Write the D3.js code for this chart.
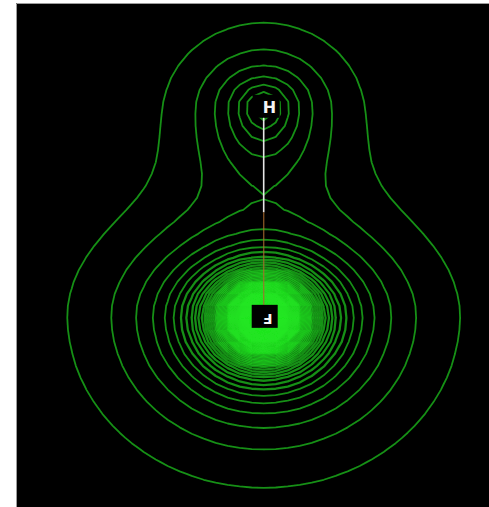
<!DOCTYPE html>
<html>
<head>
<meta charset="utf-8">
<script src="https://cdn.jsdelivr.net/npm/d3@7/dist/d3.min.js"></script>
<style>
  html, body { margin: 0; padding: 0; background: #ffffff; }
  svg { display: block; }
</style>
</head>
<body>
<svg id="chart" width="489" height="507"></svg>
<script>
// Hydrogen fluoride: electron density contours in the molecular plane.
// Atom positions in bohr, bond along the y axis.
const atomSymbols = ["H", "F"];
const atomX = [0.0, 0.0];
const atomY = [1.733, 0.0];

// Atom-centred density terms (e/bohr^3, decay lengths in bohr).
const valenceAmp   = [0.172, 0.410];
const valenceDecay = [0.316, 0.460];   // across and away from the bond
const bondDecay    = [0.456, 0.354];   // along the bond, towards the partner atom
const coreAmp      = [0.0, 2.84];
const coreDecay    = [0.123, 0.123];

// Contours are drawn at equal density steps.
const contourStep  = 0.02;
const contourCount = 170;

const width = 489, height = 507;
const plot = { left: 16, top: 3, right: 489, bottom: 507 };

const svg = d3.select("#chart");

const x = d3.scaleLinear().domain([-1.77, 1.61]).range([plot.left, plot.right]);
const y = d3.scaleLinear().domain([2.585, -1.553]).range([plot.top, plot.bottom]);

function density(bx, by) {
  let rho = 0;
  for (let a = 0; a < atomSymbols.length; a++) {
    const dx = bx - atomX[a], dy = by - atomY[a];
    const partner = a === 0 ? 1 : 0;
    const towards = dy * (atomY[partner] - atomY[a]) > 0;
    const sy = towards ? bondDecay[a] : valenceDecay[a];
    rho += valenceAmp[a] * Math.exp(-Math.hypot(dx / valenceDecay[a], dy / sy));
    if (coreAmp[a] > 0) rho += coreAmp[a] * Math.exp(-Math.hypot(dx, dy) / coreDecay[a]);
  }
  return rho;
}

// Coarse sampling grid in screen space, with one node on the fluorine nucleus.
const cell = 12;
const fx = x(atomX[1]), fy = y(atomY[1]);
const nLeft = Math.ceil((fx - plot.left) / cell);
const nTop = Math.ceil((fy - plot.top) / cell);
const gx0 = fx - cell * (nLeft + 0.5);
const gy0 = fy - cell * (nTop + 0.5);
const cols = nLeft + Math.ceil((plot.right - fx) / cell) + 2;
const rows = nTop + Math.ceil((plot.bottom - fy) / cell) + 2;

const values = new Float64Array(cols * rows);
for (let j = 0; j < rows; j++) {
  for (let i = 0; i < cols; i++) {
    const px = gx0 + (i + 0.5) * cell, py = gy0 + (j + 0.5) * cell;
    values[j * cols + i] = density(x.invert(px), y.invert(py));
  }
}

const levels = d3.range(1, contourCount + 1).map(n => n * contourStep);
const contours = d3.contours().size([cols, rows]).thresholds(levels)(values);

const toScreen = d3.geoTransform({
  point(cx, cy) { this.stream.point(gx0 + cx * cell, gy0 + cy * cell); }
});
const path = d3.geoPath(toScreen);

const defs = svg.append("defs");
defs.append("clipPath").attr("id", "panel-clip")
  .append("rect")
  .attr("x", plot.left).attr("y", plot.top)
  .attr("width", plot.right - plot.left).attr("height", plot.bottom - plot.top);
defs.append("filter").attr("id", "soft")
  .attr("filterUnits", "userSpaceOnUse")
  .attr("x", 0).attr("y", 0).attr("width", width).attr("height", height)
  .append("feGaussianBlur").attr("stdDeviation", 0.75);

// black plotting panel with its grey frame
svg.append("rect")
  .attr("x", plot.left).attr("y", plot.top)
  .attr("width", plot.right - plot.left).attr("height", plot.bottom - plot.top)
  .attr("fill", "#000000");
svg.append("path")
  .attr("d", `M${plot.left + 0.5},${plot.bottom}V${plot.top + 0.5}H${plot.right}`)
  .attr("fill", "none").attr("stroke", "#9c9c9c").attr("stroke-width", 1);

const layer = svg.append("g").attr("clip-path", "url(#panel-clip)");

// inner (core) contours are packed tightly and drawn a little heavier
layer.append("g")
  .attr("filter", "url(#soft)")
  .selectAll("path")
  .data(contours)
  .join("path")
  .attr("d", path)
  .attr("fill", "none")
  .attr("stroke", "#22e622")
  .attr("stroke-opacity", 0.62)
  .attr("stroke-width", (d, i) => i >= 6 ? 2.3 : 1.8)
  .attr("stroke-linejoin", "round");

// bond, each half in its atom's colour
const hx = x(atomX[0]), hy = y(atomY[0]);
const midY = y((atomY[0] + atomY[1]) / 2);
const bond = layer.append("g").attr("filter", "url(#soft)");
bond.append("line")
  .attr("x1", hx).attr("y1", hy).attr("x2", hx).attr("y2", midY)
  .attr("stroke", "#e6e6e6").attr("stroke-width", 1.6);
bond.append("line")
  .attr("x1", fx).attr("y1", midY).attr("x2", fx).attr("y2", fy)
  .attr("stroke", "#a8692e").attr("stroke-opacity", 0.75).attr("stroke-width", 1.4);

// atom labels
layer.append("rect")
  .attr("x", hx - 11).attr("y", hy - 12).attr("width", 27).attr("height", 23)
  .attr("fill", "#000000");
layer.append("text")
  .attr("x", hx - 1).attr("y", hy + 6)
  .attr("fill", "#f4f4f4")
  .attr("font-family", "DejaVu Sans, sans-serif")
  .attr("font-weight", "bold")
  .attr("font-size", 16)
  .text(atomSymbols[0]);

layer.append("rect")
  .attr("x", fx - 12).attr("y", fy - 13).attr("width", 26).attr("height", 23)
  .attr("fill", "#000000");
layer.append("text")
  .attr("transform", `translate(${fx + 4},${fy + 1}) rotate(180)`)
  .attr("text-anchor", "middle")
  .attr("dominant-baseline", "central")
  .attr("fill", "#f4f4f4")
  .attr("font-family", "DejaVu Sans, sans-serif")
  .attr("font-weight", "bold")
  .attr("font-size", 14)
  .text(atomSymbols[1]);
</script>
</body>
</html>
